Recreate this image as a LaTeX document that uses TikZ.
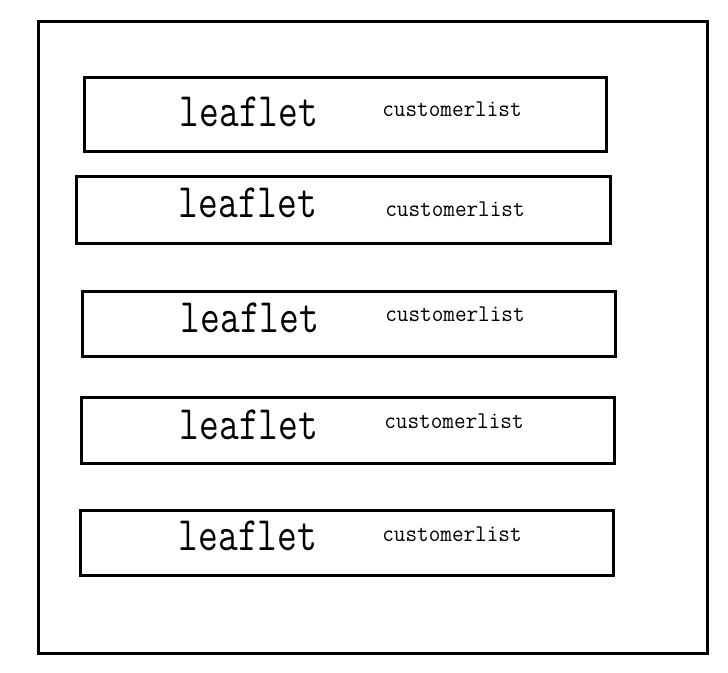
\documentclass[tikz,border=0pt]{standalone}
\usepackage{fontspec}
\newfontfamily\bigleaf[FakeStretch=0.8]{Latin Modern Mono}
\newfontfamily\smallleaf[FakeStretch=0.94]{Latin Modern Mono}
\usetikzlibrary{positioning}

\begin{document}
\begin{tikzpicture}[
        x=0.75pt, y=-0.75pt,
        frame/.style={rectangle, draw, line width=2.25pt, inner sep=0pt},
        leafbox/.style={rectangle, draw, line width=2.25pt, inner sep=0pt},
        bigtext/.style={anchor=base, inner sep=0pt, font=\bigleaf\fontsize{36pt}{37pt}\selectfont},
        smalltext/.style={anchor=base, inner sep=0pt, font=\smallleaf\fontsize{18pt}{19pt}\selectfont}
        ]
        \useasboundingbox (0,0) rectangle (728,673);

        \node (outer) [frame, minimum width=501.75pt, minimum height=473.25pt] at (372.5,337.5) {};

        \node (box1) [leafbox, minimum width=391.5pt, minimum height=55.5pt] at (345,115) {};
        \node (box2) [leafbox, minimum width=400.5pt, minimum height=50.25pt] at (343,210.5) {};
        \node (box3) [leafbox, minimum width=399.75pt, minimum height=48.75pt] at (348.5,324.5) {};
        \node (box4) [leafbox, minimum width=399.75pt, minimum height=48.75pt] at (347.5,430.5) {};
        \node (box5) [leafbox, minimum width=399.75pt, minimum height=48.75pt] at (346.5,542.5) {};

        \node (leaf1) [bigtext] at (249,127) {leaflet};
        \node (list1) [smalltext] at (452,117) {customerlist};
        \node (leaf2) [bigtext] at (248,218) {leaflet};
        \node (list2) [smalltext] at (455,217) {customerlist};
        \node (leaf3) [bigtext] at (250,333) {leaflet};
        \node (list3) [smalltext] at (455,322) {customerlist};
        \node (leaf4) [bigtext] at (249,439) {leaflet};
        \node (list4) [smalltext] at (454,428) {customerlist};
        \node (leaf5) [bigtext] at (248,550) {leaflet};
        \node (list5) [smalltext] at (452,541) {customerlist};

    \end{tikzpicture}
\end{document}
